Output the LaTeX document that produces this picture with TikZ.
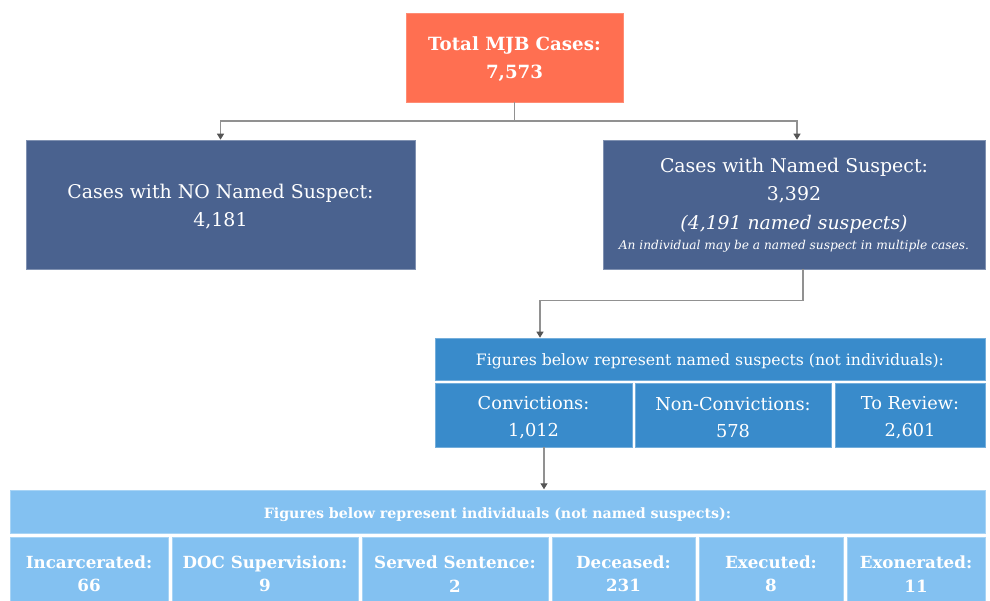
\documentclass[tikz,border=0pt]{standalone}
\usepackage{fontspec}
\setmainfont{DejaVu Serif}
\usetikzlibrary{arrows.meta}
\definecolor{orng}{RGB}{255,111,81}
\definecolor{dblue}{RGB}{74,98,143}
\definecolor{mblue}{RGB}{57,139,203}
\definecolor{lblue}{RGB}{131,193,241}
\definecolor{lgray}{RGB}{145,145,145}
\definecolor{dgray}{RGB}{85,85,85}
\begin{document}
\begin{tikzpicture}[x=1pt,y=-1pt,
  box/.style={rectangle, inner sep=0pt, text=white, align=center},
  topbox/.style={box, fill=orng, draw=orng!80!white, line width=0.6pt},
  darkbox/.style={box, fill=dblue, draw=dblue!70!white, line width=0.6pt},
  midbox/.style={box, fill=mblue, draw=mblue!70!white, line width=0.6pt},
  lightbox/.style={box, fill=lblue, draw=lblue!70!white, line width=0.6pt,
    font=\fontsize{16.7}{23.5}\selectfont\bfseries},
  toptxt/.style={box, font=\fontsize{18.2}{28}\selectfont\bfseries},
  darktxt/.style={box, font=\fontsize{18.9}{28}\selectfont},
  midtxt/.style={box, font=\fontsize{17.8}{27}\selectfont},
  midhdrtxt/.style={box, font=\fontsize{15.7}{20}\selectfont},
  lighthdrtxt/.style={box, font=\fontsize{14.2}{20}\selectfont\bfseries},
  conn/.style={draw=lgray, line width=1.2pt,
    -{Triangle[width=7pt,length=6pt,color=dgray]}},
  line/.style={draw=lgray, line width=1.2pt}
]
\useasboundingbox (0,0) rectangle (990,601);

% top
\node[topbox, minimum width=217pt, minimum height=89pt] (total) at (514.5,57.5) {};
\node[toptxt] (totaltxt) at (514.5,59.5) {Total MJB Cases:\\7,573};

% level 2
\node[darkbox, minimum width=389pt, minimum height=129pt] (none) at (220.5,204.5) {};
\node[darktxt] (nonetxt) at (220.5,206.5) {Cases with NO Named Suspect:\\4,181};
\node[darkbox, minimum width=382pt, minimum height=129pt] (named) at (794,204.5) {};
\node[darktxt] (namedtxt) at (794,205)
  {Cases with Named Suspect:\\3,392\\[1pt]
   {\fontsize{18.8}{28}\selectfont\itshape (4,191 named suspects)}\\[-8.5pt]
   {\fontsize{12.2}{14}\selectfont\itshape An individual may be a named suspect in multiple cases.}};

% level 3
\node[midbox, minimum width=550pt, minimum height=42pt] (hdrone) at (710,359) {};
\node[midhdrtxt] (hdronetxt) at (710,361.5)
  {Figures below represent named suspects (not individuals):};
\node[midbox, minimum width=197pt, minimum height=64pt] (conv) at (533.5,415) {};
\node[midtxt] (convtxt) at (533.5,417.5) {Convictions:\\1,012};
\node[midbox, minimum width=196pt, minimum height=64pt] (nonconv) at (733,415) {};
\node[midtxt] (nonconvtxt) at (733,417.5) {Non-Convictions:\\578};
\node[midbox, minimum width=150pt, minimum height=64pt] (review) at (910,415) {};
\node[midtxt] (reviewtxt) at (910,417.5) {To Review:\\2,601};

% level 4
\node[lightbox, minimum width=975pt, minimum height=43pt] (hdrtwo) at (497.5,511.5) {};
\node[lighthdrtxt] (hdrtwotxt) at (497.5,514.5)
  {Figures below represent individuals (not named suspects):};
\node[lightbox, minimum width=158pt, minimum height=74pt] (inc) at (89,574)
  {Incarcerated:\\66};
\node[lightbox, minimum width=186pt, minimum height=74pt] (doc) at (265,574)
  {DOC Supervision:\\9};
\node[lightbox, minimum width=186pt, minimum height=74pt] (served) at (455,574)
  {Served Sentence:\\2};
\node[lightbox, minimum width=143pt, minimum height=74pt] (dec) at (623.5,574)
  {Deceased:\\231};
\node[lightbox, minimum width=144pt, minimum height=74pt] (exe) at (771,574)
  {Executed:\\8};
\node[lightbox, minimum width=138pt, minimum height=74pt] (exo) at (916,574)
  {Exonerated:\\11};

% connectors
\coordinate (split) at (514.5,121);
\draw[line] (total.south) -- (split);
\draw[conn] (split) -| (none.north);
\draw[conn] (split) -| ([xshift=3pt]named.north);
\draw[conn] ([xshift=9pt]named.south) -- ++(0,31) -| ([xshift=-170pt]hdrone.north);
\draw[conn] ([xshift=10.5pt]conv.south) -- ++(0,42);
\end{tikzpicture}
\end{document}
